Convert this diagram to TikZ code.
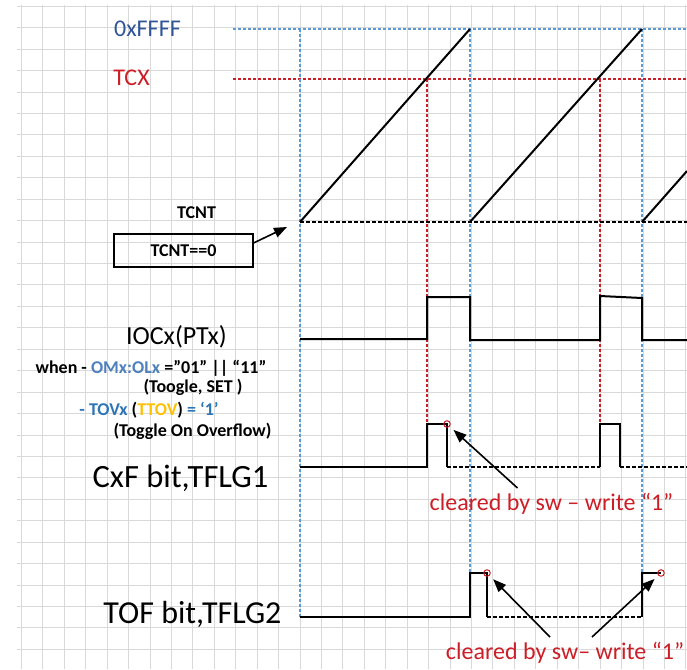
\documentclass[tikz,border=0pt]{standalone}
\usepackage{fontspec}
\setmainfont{Carlito}
\usetikzlibrary{arrows.meta}

\definecolor{gridgray}{RGB}{217,217,217}
\definecolor{dotblue}{RGB}{91,155,213}
\definecolor{dotred}{RGB}{204,30,38}
\definecolor{maxblue}{RGB}{47,85,151}
\definecolor{omblue}{RGB}{79,129,189}
\definecolor{tovblue}{RGB}{46,117,182}
\definecolor{ttovgold}{RGB}{255,192,0}

\newcommand{\sz}[1]{\fontsize{#1}{#1}\selectfont}

\begin{document}
\begin{tikzpicture}[x=1pt, y=-1pt,
    gridline/.style={gridgray, line width=0.8pt},
    bluedots/.style={dotblue, line width=2pt, dash pattern=on 3pt off 2pt},
    reddots/.style={dotred, line width=2pt, dash pattern=on 3pt off 2pt},
    wave/.style={black, line width=2pt},
    waveoff/.style={black, line width=2pt, dash pattern=on 3.5pt off 2.5pt},
    clrmark/.style={circle, draw=dotred, line width=1pt, inner sep=0pt, minimum size=6.5pt},
    pointer/.style={-{Triangle[length=13pt,width=10pt]}, line width=1.6pt},
    lbl/.style={anchor=base, inner sep=0pt},
    small/.style={lbl, font=\sz{18}\bfseries}]
    \useasboundingbox (0,0) rectangle (687,669);

    % Background grid
    \foreach \k in {1,...,32}
        \draw[gridline] (21.43*\k,5) -- (21.43*\k,669);
    \foreach \k in {0,...,31}
        \draw[gridline] (17,6.3+21.43*\k) -- (687,6.3+21.43*\k);

    % Reference levels and timing marks
    \draw[bluedots] (233,29) -- (687,29);
    \draw[reddots] (233,79) -- (687,79);
    \draw[bluedots] (300,29) -- (300,617);
    \draw[bluedots] (470,29) -- (470,573);
    \draw[bluedots] (642,29) -- (642,573);
    \draw[reddots] (427,79) -- (427,424);
    \draw[reddots] (600,79) -- (600,424);
    \draw[waveoff] (300,222) -- (687,222);

    % Counter ramps
    \coordinate (zero) at (300,222);
    \draw[wave] (zero) -- (470,29);
    \draw[wave] (470,222) -- (642,29);
    \draw[wave] (642,222) -- (687,171);

    % Output pin
    \draw[wave] (300,339) -- (427,339) -- (427,297) -- (470,297) -- (470,340)
        -- (600,340) -- (600,296) -- (642,298) -- (642,340) -- (687,340);

    % Compare flag
    \draw[wave] (300,467) -- (427,467) -- (427,424) -- (447,424) -- (447,467);
    \draw[waveoff] (447,467) -- (600,467);
    \draw[wave] (600,467) -- (600,424) -- (620,424) -- (620,467);
    \draw[waveoff] (620,467) -- (687,467);

    % Overflow flag
    \draw[wave] (300,617) -- (470,617) -- (470,573) -- (487,573) -- (487,617);
    \draw[waveoff] (487,617) -- (642,617);
    \draw[wave] (642,617) -- (642,573) -- (661,573);

    \node[clrmark] (c1) at (447,424) {};
    \node[clrmark] (c2) at (487,573) {};
    \node[clrmark] (c3) at (661,573) {};

    % Labels
    \node[lbl, font=\sz{24}, text=maxblue] (lblmax) at (147.5,37) {0xFFFF};
    \node[lbl, font=\sz{24}, text=dotred] (lbltcx) at (131.5,85) {TCX};
    \node[small] (lbltcnt) at (196.5,218) {TCNT};
    \node[draw, line width=1.1pt, minimum width=139pt, minimum height=33pt,
        font=\sz{18}\bfseries] (tcntzero) at (183.5,250.5) {TCNT==0};
    \node[lbl, font=\sz{26}] (lblioc) at (176.5,344) {IOCx(PTx)};
    \node[small] (cond1) at (151,373) {when - {\color{omblue}OMx:OLx} =”01” || “11”};
    \node[small] (cond1b) at (193,392) {(Toogle, SET )};
    \node[small] (cond2) at (149,415) {{\color{tovblue}- TOVx} ({\color{ttovgold}TTOV}) {\color{tovblue}= ‘1’}};
    \node[small] (cond2b) at (192.5,436) {(Toggle On Overflow)};
    \node[lbl, font=\sz{32.5}] (lblcxf) at (180.5,487) {CxF bit,TFLG1};
    \node[lbl, font=\sz{32}] (lbltof) at (192.5,623) {TOF bit,TFLG2};
    \node[lbl, font=\sz{24}, text=dotred] (clr1) at (551.5,510) {cleared by sw – write “1”};
    \node[lbl, font=\sz{24}, text=dotred] (clr2) at (565,659) {cleared by sw– write “1”};

    % Pointers
    \draw[pointer] (tcntzero.east |- 0,243) -- (287,227);
    \draw[pointer, shorten >=5pt] ([xshift=-34pt,yshift=22pt]clr1.base) -- (c1);
    \draw[pointer, shorten >=5pt] ([xshift=-15pt,yshift=22pt]clr2.base) -- (c2);
    \draw[pointer, shorten >=5pt] ([xshift=27pt,yshift=22pt]clr2.base) -- (c3);
\end{tikzpicture}
\end{document}
